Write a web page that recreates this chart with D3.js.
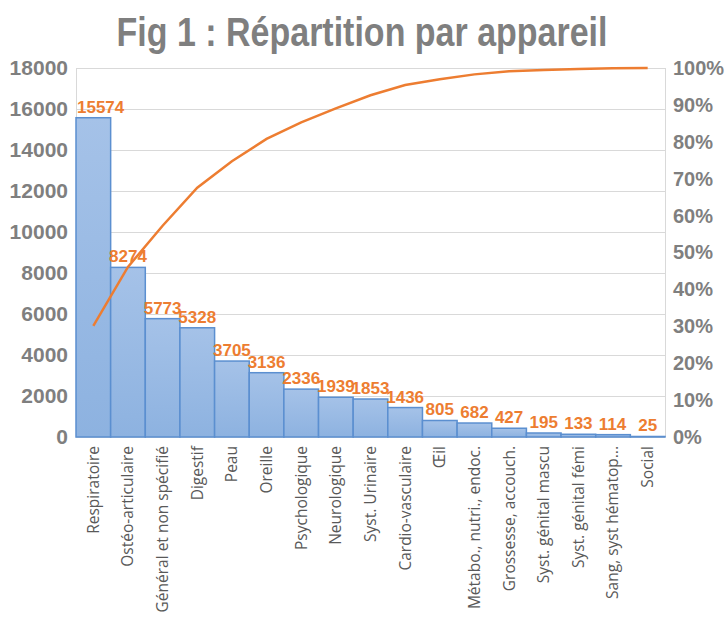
<!DOCTYPE html>
<html>
  <head>
    <meta charset="utf-8">
    <title>Fig 1 : Répartition par appareil</title>
    <style type="text/css">
      body {
        margin: 0;
        background: #fff;
        font-family: "Liberation Sans", Arial, sans-serif;
      }
      .title {
        font-size: 34px;
        font-weight: bold;
        fill: #7f7f7f;
      }
      .axis text {
        font-size: 21px;
        font-weight: bold;
        fill: #7f7f7f;
        font-family: "Liberation Sans", Arial, sans-serif;
      }
      .axis.right text {
        font-size: 20px;
      }
      .axis path, .axis line {
        display: none;
      }
      .grid line {
        stroke: #d9d9d9;
        stroke-width: 1px;
      }
      .xlabel {
        font-family: "Open Sans", sans-serif;
        font-size: 15.5px;
        fill: #595959;
      }
      .bar {
        fill: url(#barGrad);
        stroke: #5b8fd0;
        stroke-width: 1.5px;
      }
      .value {
        font-size: 17px;
        font-weight: bold;
        fill: #ed7d31;
      }
      .cumul {
        fill: none;
        stroke: #ed7d31;
        stroke-width: 2.5px;
      }
    </style>
  </head>
  <body>
    <script src="https://cdn.jsdelivr.net/npm/d3@7/dist/d3.min.js"></script>
    <script>
    // data
    var categories = ["Respiratoire", "Ostéo-articulaire", "Général et non spécifié", "Digestif",
      "Peau", "Oreille", "Psychologique", "Neurologique", "Syst. Urinaire", "Cardio-vasculaire",
      "Œil", "Métabo., nutri., endoc.", "Grossesse, accouch.", "Syst. génital mascu",
      "Syst. génital fémi", "Sang, syst hématop...", "Social"];
    var counts = [15574, 8274, 5773, 5328, 3705, 3136, 2336, 1939, 1853, 1436,
      805, 682, 427, 195, 133, 114, 25];
    var leftTicks = [0, 2000, 4000, 6000, 8000, 10000, 12000, 14000, 16000, 18000];
    var rightTicks = [0, 0.1, 0.2, 0.3, 0.4, 0.5, 0.6, 0.7, 0.8, 0.9, 1];

    var W = 728, H = 619;
    var margin = {top: 68, right: 63, bottom: 182, left: 76};
    var width = W - margin.left - margin.right,
        height = H - margin.top - margin.bottom;

    // running total for the pareto line
    var total = d3.sum(counts), run = 0;
    var cumul = counts.map(function(v) { run += v; return run / total; });

    var x = d3.scaleBand().domain(categories).range([0, width]).padding(0);
    var y = d3.scaleLinear().domain([0, 18000]).range([height, 0]);
    var yp = d3.scaleLinear().domain([0, 1]).range([height, 0]);

    var svg = d3.select("body").append("svg")
        .attr("width", W)
        .attr("height", H);

    var grad = svg.append("defs").append("linearGradient")
        .attr("id", "barGrad")
        .attr("x1", 0).attr("y1", 0).attr("x2", 0).attr("y2", 1);
    grad.append("stop").attr("offset", "0%").attr("stop-color", "#a5c2e8");
    grad.append("stop").attr("offset", "100%").attr("stop-color", "#8db2e0");

    // the source image is a bit stretched vertically
    svg.append("text")
        .attr("class", "title")
        .attr("text-anchor", "middle")
        .attr("transform", "translate(362,46) scale(1,1.18)")
        .text("Fig 1 : Répartition par appareil");

    var g = svg.append("g")
        .attr("transform", "translate(" + margin.left + "," + margin.top + ")");

    // gridlines
    g.append("g")
        .attr("class", "grid")
      .selectAll("line")
      .data(leftTicks)
      .enter().append("line")
        .attr("x1", 0)
        .attr("x2", width)
        .attr("y1", function(d) { return Math.round(y(d)) + 0.5; })
        .attr("y2", function(d) { return Math.round(y(d)) + 0.5; });

    g.append("g")
        .attr("class", "grid")
      .selectAll("line")
      .data([0, width])
      .enter().append("line")
        .attr("x1", function(d) { return d + 0.5; })
        .attr("x2", function(d) { return d + 0.5; })
        .attr("y1", 0)
        .attr("y2", height);

    // axes
    g.append("g")
        .attr("class", "axis")
        .call(d3.axisLeft(y).tickValues(leftTicks).tickSize(0).tickPadding(8)
          .tickFormat(d3.format("d")));

    g.append("g")
        .attr("class", "axis right")
        .attr("transform", "translate(" + width + ",0)")
        .call(d3.axisRight(yp).tickValues(rightTicks).tickSize(0).tickPadding(8)
          .tickFormat(d3.format(".0%")));

    // bars
    g.selectAll("rect.bar")
        .data(counts)
      .enter().append("rect")
        .attr("class", "bar")
        .attr("x", function(d, i) { return x(categories[i]); })
        .attr("width", x.bandwidth())
        .attr("y", function(d) { return y(d); })
        .attr("height", function(d) { return height - y(d); });

    // pareto line
    var line = d3.line()
        .x(function(d, i) { return x(categories[i]) + x.bandwidth() / 2; })
        .y(function(d) { return yp(d); });

    g.append("path")
        .datum(cumul)
        .attr("class", "cumul")
        .attr("d", line);

    // value labels, kept inside the plot area like excel does
    g.selectAll("text.value")
        .data(counts)
      .enter().append("text")
        .attr("class", "value")
        .attr("text-anchor", "start")
        .attr("x", function(d, i) {
          var w = String(d).length * 17 * 0.556;
          return Math.max(1, x(categories[i]) + x.bandwidth() / 2 - w / 2);
        })
        .attr("y", function(d) { return y(d) - 5; })
        .text(function(d) { return d; });

    // category labels
    g.selectAll("text.xlabel")
        .data(categories)
      .enter().append("text")
        .attr("class", "xlabel")
        .attr("text-anchor", "end")
        .attr("transform", function(d) {
          return "translate(" + (x(d) + x.bandwidth() / 2) + "," + (height + 9) + ") rotate(-90)";
        })
        .attr("dy", "0.35em")
        .text(function(d) { return d; });
    </script>
  </body>
</html>
